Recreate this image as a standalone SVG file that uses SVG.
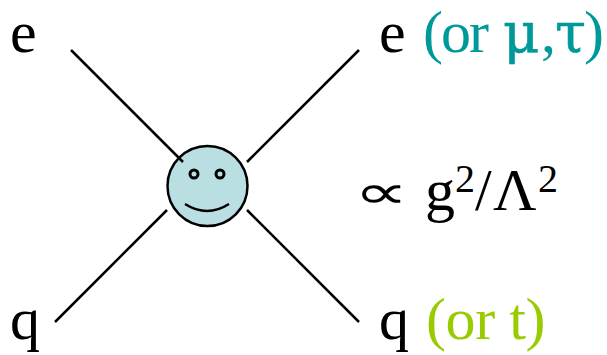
<svg xmlns="http://www.w3.org/2000/svg" width="607" height="355" viewBox="0 0 607 355">
<style>
text{font-family:"Liberation Serif","Times New Roman",serif;font-size:60px;fill:#000}
.c line{stroke:#000;stroke-width:2.5;fill:none}
.sup{font-size:40px}
.teal{fill:#009999}
.green{fill:#99cc00}
.sym{font-family:"DejaVu Serif",serif;font-size:56px;stroke:#009999;stroke-width:.6}
.prop{font-family:"DejaVu Sans",sans-serif;font-size:60px}
</style>
<rect width="607" height="355" fill="#fff"/>
<g id="blob">
<circle cx="207.500" cy="186" r="40" fill="#b9dfe3" stroke="#000" stroke-width="2.500"/>
<circle cx="194" cy="174" r="4" fill="none" stroke="#000" stroke-width="3"/>
<circle cx="220" cy="174" r="4" fill="none" stroke="#000" stroke-width="3"/>
<path d="M185 204Q207 218 229 204" fill="none" stroke="#000" stroke-width="2.500"/>
</g>
<g id="connectors" class="c">
<line x1="71" y1="50" x2="183" y2="162"/>
<line x1="359" y1="50" x2="247" y2="162"/>
<line x1="55" y1="322" x2="167" y2="210"/>
<line x1="359" y1="322" x2="247" y2="210"/>
</g>
<g id="n1"><text x="10" y="52">e</text></g>
<g id="n2"><text x="379" y="52">e</text><text class="teal" x="423" y="52" textLength="66">(or</text><text class="teal sym" x="503" y="52">μ</text><text class="teal" x="541" y="52">,</text><text class="teal sym" x="555" y="52">τ</text><text class="teal" x="584" y="52">)</text></g>
<g id="n3"><text x="10" y="339">q</text></g>
<g id="n4"><text x="379" y="339">q</text><text class="green" x="426" y="339" textLength="119.500">(or t)</text></g>
<g id="n5"><text class="prop" transform="translate(354 208) scale(1.27 .78)">∝</text><text x="425" y="210">g</text><text class="sup" x="455" y="192">2</text><text x="475" y="210">/</text><text x="493" y="210">Λ</text><text class="sup" x="538" y="192">2</text></g>
</svg>
